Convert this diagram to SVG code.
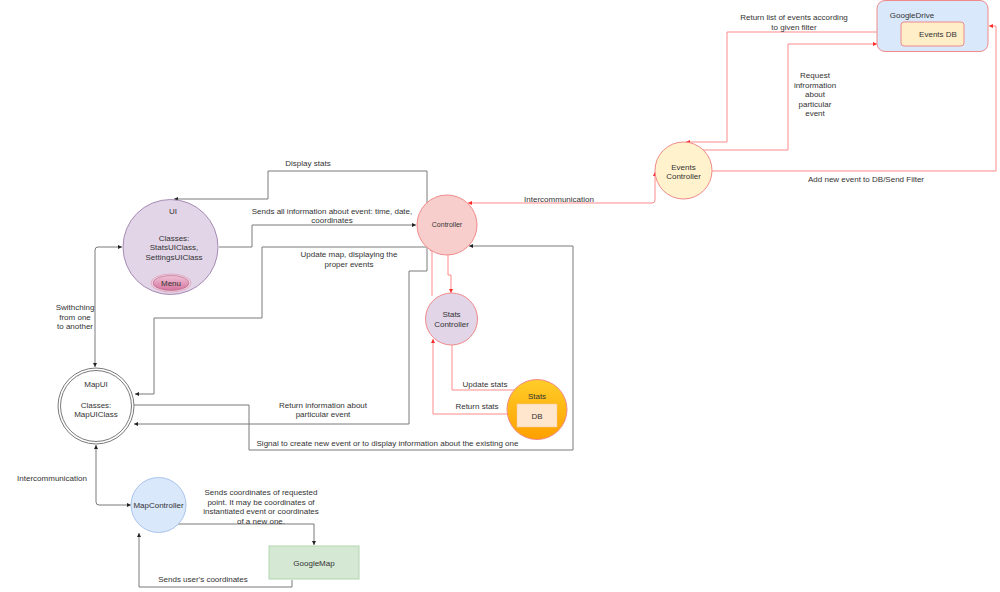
<svg xmlns="http://www.w3.org/2000/svg" width="1000" height="592" viewBox="0 0 1000 592">
<style>
text{font-family:"Liberation Sans",Arial,sans-serif;font-size:8px;fill:#333;text-anchor:middle}
.g{fill:none;stroke:#7a7a7a;stroke-width:1}
.r{fill:none;stroke:#ff8a8a;stroke-width:1}
.ge{marker-end:url(#ag)}
.gs{marker-start:url(#ag)}
.re{marker-end:url(#ar)}
.rs{marker-start:url(#ar)}
</style>
<defs>
<marker id="ag" viewBox="0 0 6 6" refX="6" refY="3" markerWidth="4" markerHeight="4" orient="auto-start-reverse" markerUnits="userSpaceOnUse"><path d="M0,0 L6,3 L0,6 z" fill="#222"/></marker>
<marker id="ar" viewBox="0 0 6 6" refX="6" refY="3" markerWidth="4" markerHeight="4" orient="auto-start-reverse" markerUnits="userSpaceOnUse"><path d="M0,0 L6,3 L0,6 z" fill="#ff2a2a"/></marker>
<linearGradient id="statsGrad" x1="0" y1="0" x2="0" y2="1"><stop offset="0" stop-color="#ffcd28"/><stop offset="1" stop-color="#ffa000"/></linearGradient>
<linearGradient id="menuGrad" x1="0" y1="0" x2="0" y2="1"><stop offset="0" stop-color="#f0c4d8"/><stop offset="1" stop-color="#d5739d"/></linearGradient>
</defs>
<rect width="1000" height="592" fill="#fff"/>
<g id="connectors">
<path class="g ge" d="M427,203 V171 H268 V199 H174"/>
<path class="g ge" d="M219,247 H252 V225 H416"/>
<path class="g ge" d="M426,247 H262 V318 H154 V394 H135"/>
<path class="g ge" d="M427,247 V271 H409 V424 H134"/>
<path class="g ge" d="M134,405 H249 V450 H573 V246 H469"/>
<path class="g ge gs" d="M122,247 H98 Q95,247 95,250 V367"/>
<path class="g ge gs" d="M96,445 V502 Q96,505 99,505 H131"/>
<path class="g ge" d="M177,524 H314 V545"/>
<path class="g ge" d="M292,580 V587 H139 V533"/>
<path class="r re rs" d="M468,203 H652 Q655,203 655,200 V172"/>
<path class="r re" d="M877,32 H727 V142 H686"/>
<path class="r re" d="M700,150 H788 V44 H877"/>
<path class="r re" d="M712,171 H996 V26 H989"/>
<path class="r re" d="M448,255 V275 H451 V293"/>
<path class="r re" d="M452,345 V390 H518 L519,388"/>
<path class="r re" d="M507,414 H433 V339"/>
<path class="r re" d="M432,296 V250 L429,248"/>
</g>
<g id="labels">
<text x="308" y="166">Display stats</text>
<text x="332" y="214">Sends all information about event: time, date,</text>
<text x="332" y="223">coordinates</text>
<text x="349" y="257">Update map, displaying the</text>
<text x="349" y="267">proper events</text>
<text x="323" y="408">Return information about</text>
<text x="323" y="417">particular event</text>
<text x="387.5" y="446">Signal to create new event or to display information about the existing one</text>
<text x="485" y="387">Update stats</text>
<text x="477" y="409">Return stats</text>
<text x="559" y="202">Intercommunication</text>
<text x="794" y="20">Return list of events according</text>
<text x="794" y="30">to given filter</text>
<text x="815" y="78">Request</text>
<text x="815" y="88">infrormation</text>
<text x="815" y="97">about</text>
<text x="815" y="107">particular</text>
<text x="815" y="116">event</text>
<text x="866" y="182">Add new event to DB/Send Filter</text>
<text x="75" y="310">Swithching</text>
<text x="75" y="320">from one</text>
<text x="75" y="329">to another</text>
<text x="52" y="481">Intercommunication</text>
<text x="261" y="495">Sends coordinates of requested</text>
<text x="261" y="505">point. It may be coordinates of</text>
<text x="261" y="514">instantiated event or coordinates</text>
<text x="261" y="524">of a new one.</text>
<text x="203" y="582">Sends user's coordinates</text>
</g>
<g id="googledrive">
<rect x="877" y="0.5" width="111" height="51" rx="8" fill="#dae8fc" stroke="#f08a8a"/>
<text x="912" y="18">GoogleDrive</text>
<rect id="eventsdb" x="901" y="22" width="63" height="24" rx="3" fill="#ffeec8" stroke="#f08a8a"/>
<text x="938" y="37">Events DB</text>
</g>
<g id="eventscontroller">
<circle cx="683.5" cy="170.5" r="28.5" fill="#fff2cc" stroke="#f08a8a"/>
<text x="683.5" y="170">Events</text>
<text x="683.5" y="179">Controller</text>
</g>
<g id="controller">
<circle cx="447" cy="225" r="30" fill="#f8cecc" stroke="#f08a8a"/>
<text x="447" y="227" style="font-size:7px">Controller</text>
</g>
<g id="statscontroller">
<circle cx="451.5" cy="319" r="26" fill="#e1d5e7" stroke="#f08a8a"/>
<text x="451.5" y="317">Stats</text>
<text x="451.5" y="327">Controller</text>
</g>
<g id="stats">
<circle cx="537" cy="409.5" r="30" fill="url(#statsGrad)" stroke="#f08a8a"/>
<text x="537" y="399">Stats</text>
<rect x="517" y="404" width="40" height="23" fill="#ffe6cc" stroke="#f5c89a" stroke-width="0.5"/>
<text x="537" y="419">DB</text>
</g>
<g id="ui">
<circle cx="170.5" cy="247" r="47.5" fill="#e1d5e7" stroke="#9673a6" stroke-width="0.8"/>
<text x="173" y="214">UI</text>
<text x="174" y="241">Classes:</text>
<text x="174" y="250">StatsUIClass,</text>
<text x="174" y="260">SettingsUIClass</text>
<g id="menu">
<ellipse cx="171" cy="283" rx="20" ry="9" fill="#f3d9e5" stroke="#e2a9c3" stroke-width="1"/>
<ellipse cx="171" cy="283" rx="18" ry="7.5" fill="url(#menuGrad)" stroke="#b05f86" stroke-width="0.6"/>
<text x="171" y="286">Menu</text>
</g>
</g>
<g id="mapui">
<circle cx="96" cy="406" r="38" fill="#fff" stroke="#7a7a7a"/>
<circle cx="96" cy="406" r="35.5" fill="none" stroke="#7a7a7a"/>
<text x="96" y="387">MapUI</text>
<text x="96" y="408">Classes:</text>
<text x="96" y="417">MapUIClass</text>
</g>
<g id="mapcontroller">
<circle cx="158.5" cy="505" r="27.5" fill="#dae8fc" stroke="#a9c4eb"/>
<text x="158.5" y="508">MapController</text>
</g>
<g id="googlemap">
<rect x="269" y="546" width="90" height="33" fill="#d5e8d4" stroke="#b5d6b2"/>
<text x="314" y="566">GoogleMap</text>
</g>
</svg>
